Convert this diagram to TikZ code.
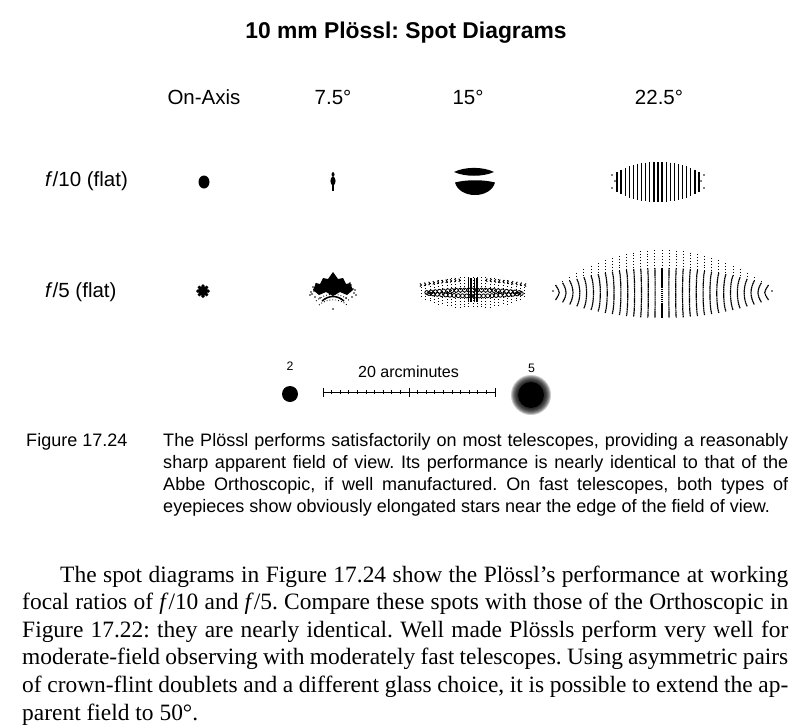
\documentclass[tikz,border=0pt]{standalone}
\usepackage{fontspec}
\setmainfont{Liberation Serif}
\setsansfont{Liberation Sans}
\usetikzlibrary{positioning}

\tikzset{
  heading/.style={font=\sffamily\bfseries\fontsize{19.5}{23}\selectfont, inner sep=0, anchor=base},
  colhead/.style={font=\sffamily\fontsize{17.5}{21}\selectfont, inner sep=0, anchor=base},
  rowhead/.style={font=\sffamily\fontsize{17.5}{21}\selectfont, inner sep=0, anchor=base west},
  barlabel/.style={font=\sffamily\fontsize{13.7}{16}\selectfont, inner sep=0, anchor=base},
  sizelabel/.style={font=\sffamily\fontsize{10.5}{12}\selectfont, inner sep=0, anchor=base},
  captext/.style={font=\sffamily\fontsize{15.4}{19}\selectfont, inner sep=0, anchor=base west},
  bodytext/.style={font=\fontsize{20}{24}\selectfont, inner sep=0, anchor=base west},
  hatch/.style={line width=1.1pt},
  raydot/.style={line width=0.8pt, dash pattern=on 0.7pt off 1.8pt},
  denseray/.style={line width=1pt, dash pattern=on 1.4pt off 0.35pt},
}

\newcommand{\capline}[1]{\hbox to 18.75cm{#1}}
\newcommand{\bodyline}[1]{\hbox to 22.98cm{#1}}

\frenchspacing

\begin{document}
\begin{tikzpicture}[x=0.03cm, y=-0.03cm]
  \useasboundingbox (0,0) rectangle (800,727);
  \fill[white] (0,0) rectangle (800,727);

  % title and column heads
  \node[heading] (title) at (406,38) {10 mm Plössl: Spot Diagrams};
  \node[colhead] (hOn)  at (204,104) {On-Axis};
  \node[colhead] (h75)  at (333,104) {7.5°};
  \node[colhead] (h15)  at (468,104) {15°};
  \node[colhead] (h225) at (659,104) {22.5°};

  % row heads
  \node[rowhead] (rF10) at (45,186) {\textit{f}/10 (flat)};
  \node[rowhead] (rF5)  at (45,297) {\textit{f}/5 (flat)};

  % f/10, on-axis and 7.5 deg
  \fill (204,182) ellipse [x radius=5.5, y radius=6.5];
  \fill (333,174.5) ellipse [x radius=1.5, y radius=2.4];
  \fill (333,181) ellipse [x radius=2.6, y radius=4.4];
  \fill (331.8,182) rectangle (334.2,191);

  % f/10, 15 deg
  \fill (454,172) .. controls (465,166.5) and (483,166.5) .. (494,172)
        .. controls (483,177) and (465,177) .. (454,172);
  \fill (455,182.5) .. controls (466,179.5) and (484,179.5) .. (495,182.5)
        .. controls (493,190) and (485,195) .. (475,195)
        .. controls (465,195) and (457,190) .. (455,182.5);

  % f/10, 22.5 deg
  \foreach \i in {-10,...,10} {
    \pgfmathsetmacro{\xa}{658+4.1*\i}
    \pgfmathsetmacro{\h}{20*sqrt(1-(\i/11.5)^2)}
    \draw[hatch] (\xa,182-\h) -- (\xa,182+\h);
  }
  \foreach \xa/\ya in {612/175, 612/188, 704/175, 704/188, 615/181, 701/181}
    \fill (\xa,\ya) circle (0.8);

  % f/5, on-axis
  \fill (203,291) circle (5.2);
  \foreach \a in {0,45,...,315}
    \fill (203,291) ++(\a:5.2) circle (1.8);

  % f/5, 7.5 deg
  \fill (313,290) -- (316,283) -- (320,284) -- (323,278) -- (328,279) -- (333,272)
        -- (338,279) -- (343,278) -- (346,284) -- (350,283) -- (353,290)
        -- (347,295) -- (340,292) -- (333,296) -- (326,292) -- (319,295) -- cycle;
  \foreach \dx/\dy in {-20/-4, -19/0, -21/3, -17/-7, -18/6, 18/-6, 20/-2, 21/2, 19/6,
                       17/-8, 22/-1, -22/1, -13/7, 13/7, -8/8, 8/8, -23/4, 23/4}
    \fill (333+\dx,291+\dy) circle (0.9);
  \draw[line width=1.3pt] (322,301) .. controls (329,295) and (337,295) .. (344,301);
  \draw[raydot] (316,301) .. controls (326,292) and (340,292) .. (350,301);
  \draw[raydot] (319,305) .. controls (327,298) and (339,298) .. (347,305);
  \fill (333,309) circle (0.9);

  % f/5, 15 deg
  \foreach \i in {-12,...,12} {
    \pgfmathsetmacro{\xa}{473+4.3*\i}
    \pgfmathsetmacro{\h}{sqrt(1-(\i/12.6)^2)}
    \draw[raydot] (\xa,292-15*\h) -- (\xa,292+16*\h);
  }
  \foreach \i in {-12,...,-3} {
    \pgfmathsetmacro{\xa}{473+4.3*\i}
    \pgfmathsetmacro{\ya}{280+5*(\i/12)^2}
    \draw[line width=0.8pt] (\xa-1.4,\ya-1.6) -- (\xa,\ya) -- (\xa-1.4,\ya+1.6);
  }
  \foreach \i in {3,...,12} {
    \pgfmathsetmacro{\xa}{473+4.3*\i}
    \pgfmathsetmacro{\ya}{280+5*(\i/12)^2}
    \draw[line width=0.8pt] (\xa+1.4,\ya-1.6) -- (\xa,\ya) -- (\xa+1.4,\ya+1.6);
  }
  \foreach \i in {-11,...,11} {
    \pgfmathsetmacro{\xa}{473+4.2*\i}
    \pgfmathsetmacro{\w}{1-(\i/12)^2}
    \draw[line width=0.7pt] (\xa,293-3*\w) circle (2);
    \draw[line width=0.7pt] (\xa+2.1,293+3*\w) circle (2);
  }
  \foreach \dx in {-4.5,-3,-1.5,1.5,3,4.5}
    \draw[line width=0.6pt] (473+\dx,278) -- (473+\dx,302);

  % f/5, 22.5 deg
  \foreach \i in {-15,...,15} {
    \pgfmathsetmacro{\u}{\i/15}
    \pgfmathsetmacro{\xa}{662+7.1*\i}
    \pgfmathsetmacro{\ytop}{250+36*\u*\u}
    \pgfmathsetmacro{\ymid}{268+17*\u*\u}
    \pgfmathsetmacro{\ybot}{318-18*\u*\u}
    \pgfmathsetmacro{\bend}{-5*\u}
    \draw[raydot] (\xa,\ytop) -- (\xa,\ymid);
    \draw[denseray] (\xa,\ymid) .. controls (\xa+\bend,\ymid+8) and (\xa+\bend,\ybot-8) .. (\xa,\ybot);
  }
  \fill (553,291) circle (0.8);
  \fill (772,291) circle (0.8);

  % scale: 2 arcsec star, 20 arcminutes bar, 5 arcsec star
  \node[circle, fill, inner sep=0, minimum size=0.48cm] (dot2) at (290,394) {};
  \node[sizelabel, above=0.45cm of dot2] (lab2) {2};
  \node[barlabel] (lab20) at (408.5,377) {20 arcminutes};
  \coordinate (barL) at (323,392);
  \coordinate (barR) at (495,392);
  \draw[line width=0.7pt] (barL) -- (barR);
  \foreach \k in {0,...,20} {
    \pgfmathsetmacro{\t}{ifthenelse(mod(\k,10)==0,4.5,2.3)}
    \draw[line width=0.7pt] (323+8.6*\k,392-\t) -- (323+8.6*\k,392+\t);
  }
  \coordinate (blur5) at (531,395);
  \fill (blur5) circle (13);
  \foreach \r in {14,...,20}
    \fill[opacity=0.22] (blur5) circle (\r);
  \node[sizelabel] (lab5) at (531.5,372) {5};

  % caption
  \node[captext] (fig) at (26,446) {Figure 17.24};
  \node[captext] (cap1) at (163,446) {\capline{The Plössl performs satisfactorily on most telescopes, providing a reasonably}};
  \node[captext] (cap2) at (163,468) {\capline{sharp apparent field of view. Its performance is nearly identical to that of the}};
  \node[captext] (cap3) at (163,490) {\capline{Abbe Orthoscopic, if well manufactured. On fast telescopes, both types of}};
  \node[captext] (cap4) at (163,512) {eyepieces show obviously elongated stars near the edge of the field of view.};

  % running text
  \node[bodytext] (body1) at (22,582) {\bodyline{\hskip1.14cm The spot diagrams in Figure 17.24 show the Plössl’s performance at working}};
  \node[bodytext] (body2) at (22,609.6) {\bodyline{focal ratios of \textit{f}/10 and \textit{f}/5. Compare these spots with those of the Orthoscopic in}};
  \node[bodytext] (body3) at (22,637.2) {\bodyline{Figure 17.22: they are nearly identical. Well made Plössls perform very well for}};
  \node[bodytext] (body4) at (22,664.8) {\bodyline{moderate-field observing with moderately fast telescopes. Using asymmetric pairs}};
  \node[bodytext] (body5) at (22,692.4) {\bodyline{of crown-flint doublets and a different glass choice, it is possible to extend the ap-}};
  \node[bodytext] (body6) at (22,720) {parent field to 50°.};
\end{tikzpicture}
\end{document}
